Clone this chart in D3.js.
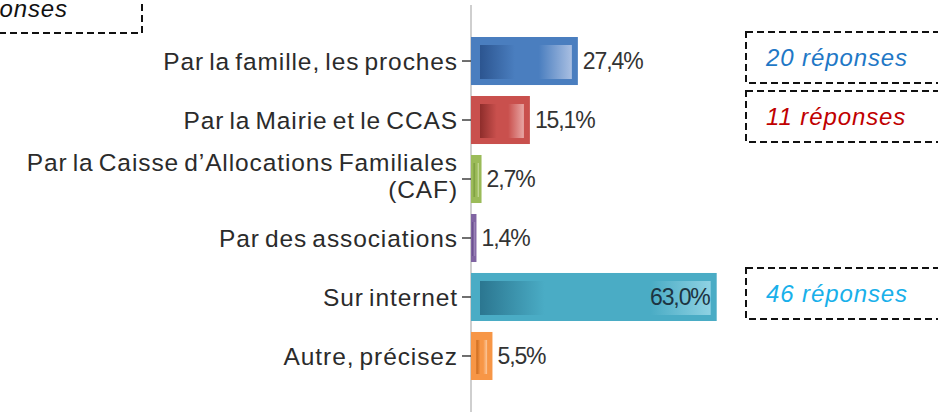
<!DOCTYPE html>
<html>
<head>
<meta charset="utf-8">
<script src="https://cdn.jsdelivr.net/npm/d3@7"></script>
<style>
  html, body { margin: 0; padding: 0; background: #fff; }
  svg { display: block; }
</style>
</head>
<body>
<svg id="chart" width="938" height="412"></svg>
<script>
// Survey answers: how people heard about the service
const categories = [
  "Par la famille, les proches",
  "Par la Mairie et le CCAS",
  "Par la Caisse d’Allocations Familiales\n(CAF)",
  "Par des associations",
  "Sur internet",
  "Autre, précisez"
];
const values = [27.4, 15.1, 2.7, 1.4, 63.0, 5.5];
const barColors = ["#4a7ebf", "#c9504d", "#9bbb59", "#8064a2", "#4aacc5", "#f79646"];
const darkColors = ["#2c5590", "#8e2d2b", "#6f8f35", "#5a4380", "#2b7690", "#c8691d"];
const lightColors = ["#a9bfe2", "#e8a6a4", "#cfe0a8", "#c2b3d6", "#8fd2e3", "#fcc89c"];

// Response-count annotations
const noteTexts = ["20 réponses", "11 réponses", "46 réponses"];
const noteRows = [0, 1, 4];
const noteColors = ["#1f78c6", "#c00000", "#19b0ea"];
const totalNote = "73 réponses";

const svg = d3.select("#chart");
const defs = svg.append("defs");

const axisX = 471;
const x = d3.scaleLinear().domain([0, 100]).range([axisX, axisX + 390]);
const y = d3.scaleBand().domain(categories).range([37, 380]).paddingInner(0.186).paddingOuter(0);

const FONT = "Liberation Sans, Arial, sans-serif";

// Gradients for the inner panel of each bar: dark on the left, lighter at the right end
values.forEach((v, i) => {
  const g = defs.append("linearGradient").attr("id", "grad" + i)
    .attr("x1", "0%").attr("x2", "100%").attr("y1", "0%").attr("y2", "0%");
  g.append("stop").attr("offset", "0%").attr("stop-color", darkColors[i]);
  g.append("stop").attr("offset", i === 4 ? "28%" : "38%").attr("stop-color", barColors[i]);
  g.append("stop").attr("offset", i === 4 ? "74%" : "64%").attr("stop-color", barColors[i]);
  g.append("stop").attr("offset", "100%").attr("stop-color", lightColors[i]);
});

// Vertical axis line
svg.append("line")
  .attr("x1", axisX).attr("x2", axisX)
  .attr("y1", 5).attr("y2", 412)
  .attr("stroke", "#cfcfcf").attr("stroke-width", 2);

// Bars
const bars = svg.append("g").selectAll("g.bar")
  .data(categories.map((c, i) => ({ c, v: values[i], i })))
  .join("g").attr("class", "bar");

bars.append("rect")
  .attr("x", axisX)
  .attr("y", d => y(d.c))
  .attr("width", d => x(d.v) - axisX)
  .attr("height", y.bandwidth())
  .attr("fill", d => barColors[d.i]);

const insetL = w => Math.min(9, w * 0.25);
const insetR = w => Math.min(6, w * 0.25);
bars.append("rect")
  .attr("x", d => axisX + insetL(x(d.v) - axisX))
  .attr("y", d => y(d.c) + 8)
  .attr("width", d => {
    const w = x(d.v) - axisX;
    return Math.max(0, w - insetL(w) - insetR(w));
  })
  .attr("height", y.bandwidth() - 14)
  .attr("fill", d => `url(#grad${d.i})`);

// Value labels
const fmt = v => v.toFixed(1).replace(".", ",") + "%";
bars.append("text")
  .attr("x", d => d.v > 50 ? x(d.v) - 7 : x(d.v) + 5)
  .attr("y", d => y(d.c) + y.bandwidth() / 2)
  .attr("dy", "0.36em")
  .attr("text-anchor", d => d.v > 50 ? "end" : "start")
  .attr("font-family", FONT)
  .attr("font-size", 23)
  .attr("letter-spacing", "-1.1px")
  .attr("fill", d => d.v > 50 ? "#1c3442" : "#333")
  .text(d => fmt(d.v));

// Category axis
const axis = svg.append("g")
  .attr("transform", `translate(${axisX},0)`)
  .call(d3.axisLeft(y).tickSize(9).tickPadding(3));
axis.select(".domain").remove();
axis.selectAll(".tick line").attr("stroke", "#404040").attr("stroke-width", 1.5);
axis.selectAll(".tick text").remove();
axis.selectAll(".tick").each(function(d) {
  const lines = d.split("\n");
  const t = d3.select(this).append("text")
    .attr("text-anchor", "end")
    .attr("font-family", FONT)
    .attr("font-size", 24.5)
    .attr("letter-spacing", "0.9px")
    .attr("word-spacing", "-2.5px")
    .attr("fill", "#2b2b2b");
  lines.forEach((ln, k) => {
    t.append("tspan")
      .attr("x", -13)
      .attr("y", (k - (lines.length - 1) / 2) * 27 - (lines.length > 1 ? 3 : 0))
      .attr("dy", "0.36em")
      .text(ln);
  });
});

// Annotation boxes
const notes = svg.append("g");
noteTexts.forEach((txt, k) => {
  const cy = y(categories[noteRows[k]]) + y.bandwidth() / 2 - 3;
  notes.append("rect")
    .attr("x", 746).attr("y", cy - 26)
    .attr("width", 260).attr("height", 51)
    .attr("fill", "none")
    .attr("stroke", "#111").attr("stroke-width", 2)
    .attr("stroke-dasharray", "7,4");
  notes.append("text")
    .attr("x", 766).attr("y", cy - 1)
    .attr("dy", "0.36em")
    .attr("font-family", FONT)
    .attr("font-style", "italic")
    .attr("font-size", 24)
    .attr("letter-spacing", "0.9px")
    .attr("fill", noteColors[k])
    .text(txt);
});

// Total-responses box, partly outside the view
notes.append("rect")
  .attr("x", -120).attr("y", -20)
  .attr("width", 262).attr("height", 53)
  .attr("fill", "none")
  .attr("stroke", "#111").attr("stroke-width", 2)
  .attr("stroke-dasharray", "7,4");
notes.append("text")
  .attr("x", 68).attr("y", 17)
  .attr("text-anchor", "end")
  .attr("font-family", FONT)
  .attr("font-style", "italic")
  .attr("font-size", 24)
  .attr("letter-spacing", "0.9px")
  .attr("fill", "#111")
  .text(totalNote);
</script>
</body>
</html>
